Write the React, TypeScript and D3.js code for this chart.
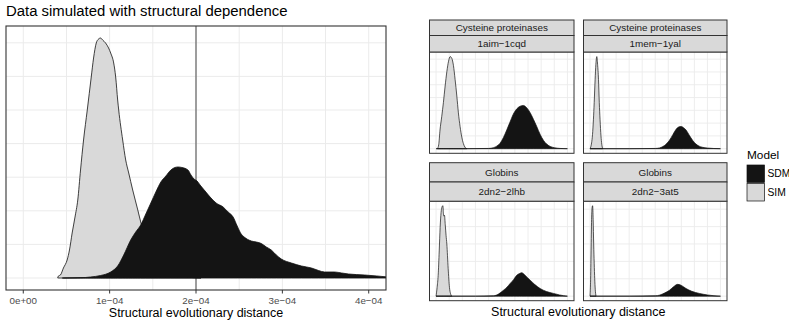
import * as d3 from "d3";

// ---- main panel data: distance in units of 1e-04, density (arbitrary units)
const mainTicks = [0, 1, 2, 3, 4];
const mainTickLabels = ["0e+00", "1e\u221204", "2e\u221204", "3e\u221204", "4e\u221204"];
const mainRefLine = 2;

const mainSim: [number, number][] = [
  [0.399, 0], [0.407, 60], [0.43, 89], [0.465, 298], [0.508, 536], [0.535, 833],
  [0.566, 1339], [0.599, 1815], [0.631, 2321], [0.663, 3214], [0.698, 4107],
  [0.741, 5000], [0.787, 5982], [0.814, 6547], [0.845, 6994], [0.872, 7113],
  [0.895, 7143], [0.919, 7083], [0.953, 6994], [0.988, 6845], [1.012, 6696],
  [1.047, 6399], [1.07, 5982], [1.093, 5298], [1.105, 5000], [1.151, 4107],
  [1.186, 3512], [1.221, 3125], [1.267, 2619], [1.326, 2024], [1.36, 1667],
  [1.419, 1131], [1.477, 714], [1.57, 357], [1.709, 119], [1.884, 30], [2.058, 0],
];

const mainSdm: [number, number][] = [
  [0.453, 0], [0.721, 15], [0.779, 30], [0.895, 74], [1.012, 179], [1.093, 357],
  [1.163, 684], [1.244, 1131], [1.302, 1369], [1.36, 1577], [1.419, 1905],
  [1.477, 2232], [1.535, 2559], [1.593, 2857], [1.651, 3036], [1.709, 3214],
  [1.756, 3289], [1.791, 3304], [1.837, 3289], [1.907, 3214], [1.942, 3065],
  [1.977, 2946], [2.012, 2887], [2.047, 2768], [2.105, 2589], [2.163, 2411],
  [2.233, 2232], [2.314, 2113], [2.372, 1964], [2.43, 1815], [2.477, 1548],
  [2.523, 1310], [2.558, 1220], [2.64, 1101], [2.698, 1071], [2.756, 1027],
  [2.814, 923], [2.872, 833], [2.93, 684], [2.988, 565], [3.105, 446],
  [3.221, 357], [3.337, 298], [3.419, 223], [3.488, 179], [3.605, 179],
  [3.686, 149], [3.767, 119], [3.953, 89], [4.093, 60], [4.221, 30], [4.384, 15],
  [4.616, 0],
];

// ---- facet data: relative distance, density (arbitrary units), free scales
const facetFamilies = ["Cysteine proteinases", "Cysteine proteinases", "Globins", "Globins"];
const facetPairs = ["1aim\u22121cqd", "1mem\u22121yal", "2dn2\u22122lhb", "2dn2\u22123at5"];

const sim1aim: [number, number][] = [
  [0.01, 0], [0.02, 1.5], [0.03, 7.3], [0.043, 12.5], [0.056, 18.1], [0.069, 24.5],
  [0.082, 30.1], [0.095, 34.2], [0.107, 36], [0.12, 35.3], [0.132, 32.6], [0.145, 27],
  [0.158, 20.6], [0.17, 14], [0.183, 8.6], [0.196, 4.5], [0.208, 2], [0.22, 0.6], [0.234, 0],
];
const sdm1aim: [number, number][] = [
  [0, 0], [0.2, 0], [0.4, 0.1], [0.437, 0.4], [0.462, 1], [0.487, 2.1], [0.512, 4.3],
  [0.538, 7.3], [0.562, 10.3], [0.586, 13.3], [0.613, 15.5], [0.64, 16.6], [0.665, 16.9],
  [0.69, 16], [0.716, 14.1], [0.742, 11.4], [0.767, 8.6], [0.792, 5.6], [0.817, 3.3],
  [0.842, 1.8], [0.868, 0.9], [0.9, 0.4], [0.944, 0.1], [1, 0],
];
const sim1mem: [number, number][] = [
  [0, 0], [0.006, 1.5], [0.012, 4.5], [0.019, 11], [0.026, 22.6], [0.032, 36],
  [0.039, 54], [0.045, 66], [0.052, 72], [0.058, 66], [0.065, 54], [0.071, 36],
  [0.077, 22.6], [0.084, 10], [0.09, 3.5], [0.097, 0],
];
const sdm1mem: [number, number][] = [
  [0, 0], [0.3, 0], [0.5, 0.2], [0.533, 0.6], [0.571, 2.5], [0.609, 6.6], [0.635, 11],
  [0.66, 15.2], [0.68, 17], [0.698, 17.3], [0.717, 16.4], [0.736, 14.6], [0.761, 10.5],
  [0.786, 6.6], [0.81, 3.8], [0.836, 2], [0.862, 1.1], [0.9, 0.5], [0.95, 0.15], [1, 0],
];
const sim2lhb: [number, number][] = [
  [0, 0], [0.008, 0.5], [0.016, 1.2], [0.024, 2.6], [0.031, 3.95], [0.038, 4.8],
  [0.044, 5.1], [0.052, 5.2], [0.056, 4.75], [0.06, 4.6], [0.064, 4.65], [0.07, 4.1],
  [0.076, 3.5], [0.082, 3.0], [0.092, 1.6], [0.102, 0.5], [0.11, 0.15], [0.12, 0],
];
const sdm2lhb: [number, number][] = [
  [0, 0], [0.3, 0], [0.437, 0.02], [0.475, 0.12], [0.513, 0.34], [0.54, 0.52],
  [0.564, 0.73], [0.59, 0.95], [0.614, 1.2], [0.635, 1.3], [0.652, 1.35], [0.67, 1.26],
  [0.69, 1.1], [0.716, 0.92], [0.75, 0.68], [0.792, 0.44], [0.84, 0.27], [0.893, 0.16],
  [0.94, 0.07], [1, 0],
];
const sim3at5: [number, number][] = [
  [0, 0], [0.004, 4], [0.008, 13], [0.012, 22], [0.016, 25.5], [0.02, 26], [0.024, 22],
  [0.028, 15], [0.032, 9.5], [0.036, 5], [0.04, 2], [0.046, 0],
];
const sdm3at5: [number, number][] = [
  [0, 0], [0.3, 0], [0.5, 0.1], [0.533, 0.3], [0.571, 0.9], [0.609, 1.7], [0.64, 2.7],
  [0.672, 3.4], [0.7, 3.1], [0.736, 2.2], [0.78, 1.4], [0.837, 0.8], [0.9, 0.35],
  [0.95, 0.12], [1, 0],
];
const facetSim = [sim1aim, sim1mem, sim2lhb, sim3at5];
const facetSdm = [sdm1aim, sdm1mem, sdm2lhb, sdm3at5];

const models = ["SDM", "SIM"];
const modelFill: Record<string, string> = { SDM: "#141414", SIM: "#d9d9d9" };

// ---- layout
const W = 789;
const H = 324;
const FONT = "'Liberation Sans', Arial, Helvetica, sans-serif";
const GRID = "#ebebeb";
const BORDER = "#333333";

const main = { left: 6, right: 386, top: 26, bottom: 290 };
const cols = [
  { left: 429.5, right: 574 },
  { left: 583.5, right: 727 },
];
const rows = [
  { stripTop: 20, stripMid: 35.5, top: 52, bottom: 153.3 },
  { stripTop: 162.7, stripMid: 182, top: 201.2, bottom: 300.7 },
];

function minorBreaks(major: number[], domain: number[]) {
  const step = major[1] - major[0];
  return [major[0] - step / 2, ...major.map((m) => m + step / 2)].filter(
    (v) => v > domain[0] && v < domain[1] && !major.includes(v)
  );
}

function densityPath(
  data: [number, number][],
  x: d3.ScaleLinear<number, number>,
  y: d3.ScaleLinear<number, number>
) {
  return (
    d3
      .area<[number, number]>()
      .x((d) => x(d[0]))
      .y0(y(0))
      .y1((d) => y(d[1]))
      .curve(d3.curveMonotoneX)(data) || ""
  );
}

function MainPanel() {
  const x = d3.scaleLinear().domain([-0.2, 4.2]).range([main.left, main.right]);
  const yMax = d3.max([...mainSim, ...mainSdm], (d) => d[1]) || 1;
  const y = d3
    .scaleLinear()
    .domain([-0.05 * yMax, 1.05 * yMax])
    .range([main.bottom, main.top]);
  const yMajor = y.ticks(5);
  const yLines = [...yMajor, ...minorBreaks(yMajor, y.domain())];
  const xLines = [...mainTicks, ...minorBreaks(mainTicks, x.domain())];

  return (
    <g>
      <clipPath id="main-clip">
        <rect x={main.left} y={main.top} width={main.right - main.left} height={main.bottom - main.top} />
      </clipPath>
      <rect x={main.left} y={main.top} width={main.right - main.left} height={main.bottom - main.top} fill="white" />
      {yLines.map((v) => (
        <line key={"y" + v} x1={main.left} x2={main.right} y1={y(v)} y2={y(v)} stroke={GRID} strokeWidth={1} />
      ))}
      {xLines.map((v) => (
        <line key={"x" + v} x1={x(v)} x2={x(v)} y1={main.top} y2={main.bottom} stroke={GRID} strokeWidth={1} />
      ))}
      <line x1={x(mainRefLine)} x2={x(mainRefLine)} y1={main.top} y2={main.bottom} stroke="#555" strokeWidth={1.1} />
      <g clipPath="url(#main-clip)">
        <path d={densityPath(mainSim, x, y)} fill={modelFill.SIM} stroke="#111" strokeWidth={0.8} />
        <path d={densityPath(mainSdm, x, y)} fill={modelFill.SDM} stroke="#111" strokeWidth={0.8} />
      </g>
      <rect x={main.left} y={main.top} width={main.right - main.left} height={main.bottom - main.top} fill="none" stroke={BORDER} strokeWidth={1.1} />
      {mainTicks.map((t, i) => (
        <g key={t}>
          <line x1={x(t)} x2={x(t)} y1={main.bottom} y2={main.bottom + 3.5} stroke={BORDER} strokeWidth={1} />
          <text x={x(t)} y={304} textAnchor="middle" fontSize={9.8} fill="#4d4d4d">
            {mainTickLabels[i]}
          </text>
        </g>
      ))}
      <text x={(main.left + main.right) / 2} y={317} textAnchor="middle" fontSize={12.5} fill="#000">
        Structural evolutionary distance
      </text>
      <text x={main.left} y={16} fontSize={14.9} fill="#000">
        Data simulated with structural dependence
      </text>
    </g>
  );
}

function Facet({ i }: { i: number }) {
  const col = cols[i % 2];
  const row = rows[Math.floor(i / 2)];
  const sim = facetSim[i];
  const sdm = facetSdm[i];
  const all = [...sim, ...sdm];
  const [xMin, xMax] = d3.extent(all, (d) => d[0]) as [number, number];
  const xPad = (xMax - xMin) * 0.05;
  const x = d3.scaleLinear().domain([xMin - xPad, xMax + xPad]).range([col.left, col.right]);
  const yMax = d3.max(all, (d) => d[1]) || 1;
  const y = d3.scaleLinear().domain([-0.05 * yMax, 1.05 * yMax]).range([row.bottom, row.top]);
  const xMajor = x.ticks(5);
  const yMajor = y.ticks(4);
  const xLines = [...xMajor, ...minorBreaks(xMajor, x.domain())];
  const yLines = [...yMajor, ...minorBreaks(yMajor, y.domain())];
  const w = col.right - col.left;
  const cx = (col.left + col.right) / 2;

  return (
    <g>
      <rect x={col.left} y={row.top} width={w} height={row.bottom - row.top} fill="white" />
      {yLines.map((v) => (
        <line key={"y" + v} x1={col.left} x2={col.right} y1={y(v)} y2={y(v)} stroke={GRID} strokeWidth={0.9} />
      ))}
      {xLines.map((v) => (
        <line key={"x" + v} x1={x(v)} x2={x(v)} y1={row.top} y2={row.bottom} stroke={GRID} strokeWidth={0.9} />
      ))}
      <path d={densityPath(sim, x, y)} fill={modelFill.SIM} stroke="#111" strokeWidth={0.7} />
      <path d={densityPath(sdm, x, y)} fill={modelFill.SDM} stroke="#111" strokeWidth={0.7} />
      <rect x={col.left} y={row.top} width={w} height={row.bottom - row.top} fill="none" stroke={BORDER} strokeWidth={1} />
      <rect x={col.left} y={row.stripTop} width={w} height={row.stripMid - row.stripTop} fill="#d9d9d9" stroke={BORDER} strokeWidth={1} />
      <rect x={col.left} y={row.stripMid} width={w} height={row.top - row.stripMid} fill="#d9d9d9" stroke={BORDER} strokeWidth={1} />
      <text x={cx} y={(row.stripTop + row.stripMid) / 2 + 3.6} textAnchor="middle" fontSize={9.9} fill="#1a1a1a">
        {facetFamilies[i]}
      </text>
      <text x={cx} y={(row.stripMid + row.top) / 2 + 3.6} textAnchor="middle" fontSize={9.9} fill="#1a1a1a">
        {facetPairs[i]}
      </text>
    </g>
  );
}

function Legend() {
  const left = 747;
  const keyTop = 165;
  const key = 17.5;
  return (
    <g>
      <text x={left} y={159} fontSize={11.8} fill="#000">
        Model
      </text>
      {models.map((m, i) => (
        <g key={m}>
          <rect x={left} y={keyTop + i * (key + 1)} width={key} height={key} fill={modelFill[m]} stroke="#111" strokeWidth={0.7} />
          <text x={left + key + 3} y={keyTop + i * (key + 1) + key / 2 + 3.7} fontSize={10.3} fill="#000">
            {m}
          </text>
        </g>
      ))}
    </g>
  );
}

export default function App() {
  return (
    <svg
      width={W}
      height={H}
      style={{ position: "absolute", left: 0, top: 0, background: "white" }}
      fontFamily={FONT}
    >
      <rect width={W} height={H} fill="white" />
      <MainPanel />
      {[0, 1, 2, 3].map((i) => (
        <Facet key={i} i={i} />
      ))}
      <text x={(cols[0].left + cols[1].right) / 2} y={316} textAnchor="middle" fontSize={12.5} fill="#000">
        Structural evolutionary distance
      </text>
      <Legend />
    </svg>
  );
}
